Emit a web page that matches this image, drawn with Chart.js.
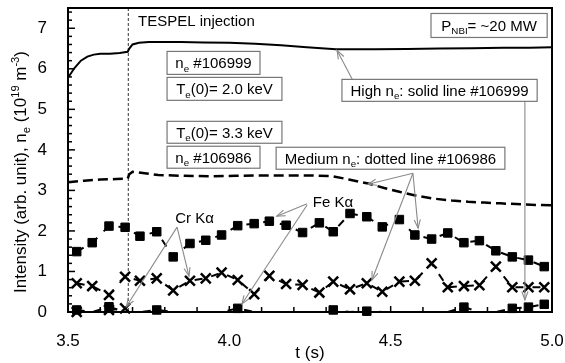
<!DOCTYPE html>
<html><head><meta charset="utf-8">
<script src="https://cdn.jsdelivr.net/npm/chart.js@4"></script>
<style>html,body{margin:0;padding:0;background:#fff;}canvas{display:block;}</style>
</head><body>
<canvas id="c" width="565" height="363"></canvas>
<script>
// ---- data ----
const markerTimes = [3.527,3.575,3.627,3.677,3.723,3.775,3.826,3.878,3.927,3.976,4.026,4.077,4.124,4.176,4.227,4.279,4.322,4.374,4.426,4.474,4.527,4.575,4.627,4.677,4.727,4.775,4.826,4.877,4.927,4.976];
// Fe K-alpha, medium n_e shot #106986 (squares)
const feMedium = [1.49,1.71,2.12,2.09,1.87,1.98,1.36,1.69,1.77,1.90,2.13,2.18,2.24,2.14,1.96,2.20,1.98,2.43,2.35,2.10,2.28,1.90,1.80,1.95,1.71,1.76,1.51,1.36,1.28,1.12];
// Cr K-alpha, medium n_e shot #106986 (crosses)
const crMedium = [0.71,0.64,0.42,0.87,0.77,0.83,0.53,0.77,0.83,0.97,0.79,0.44,0.89,0.69,0.67,0.48,0.75,0.56,0.71,0.50,0.75,0.77,1.20,0.61,0.64,0.66,1.12,0.61,0.61,0.61];
// Fe K-alpha, high n_e shot #106999 (squares near zero)
const feHigh = [0.05,0,0.13,0,0,0.05,0,0,0,0,0.09,0,0,0,0,0,0.05,0,0.02,0,0,0,0,0,0.12,0,0,0.09,0.12,0.19];
// Cr K-alpha, high n_e shot #106999 (crosses near zero)
const crHigh = [0.0,null,0.05,0.09,null,null,null,null,null,null,null,null,null,null,null,null,null,null,null,null,null,null,null,null,null,null,null,null,null,null];
// electron density, high n_e (solid)
const neHighTime = [3.50,3.52,3.54,3.56,3.58,3.60,3.63,3.66,3.685,3.69,3.70,3.72,3.75,3.80,3.85,3.92,4.00,4.08,4.16,4.24,4.33,4.40,4.45,4.55,4.65,4.75,4.85,4.93,5.00];
const neHigh     = [5.78,6.02,6.20,6.30,6.35,6.37,6.37,6.39,6.42,6.50,6.60,6.64,6.66,6.66,6.66,6.65,6.64,6.62,6.58,6.53,6.48,6.48,6.48,6.49,6.50,6.51,6.52,6.52,6.53];
// electron density, medium n_e (dashed)
const neMedTime = [3.50,3.55,3.60,3.65,3.685,3.69,3.70,3.78,3.86,3.94,4.02,4.10,4.17,4.24,4.32,4.37,4.43,4.48,4.53,4.58,4.63,4.69,4.74,4.79,4.84,4.92,5.00];
const neMed     = [3.20,3.24,3.27,3.28,3.29,3.40,3.46,3.38,3.36,3.35,3.36,3.37,3.37,3.37,3.35,3.27,3.17,3.06,2.96,2.87,2.80,2.75,2.72,2.70,2.68,2.65,2.63];
const tespelTime = 3.687;
const xTickValues = [3.5,4.0,4.5,5.0];
const yTickValues = [0,1,2,3,4,5,6,7];

// ---- annotations (data coordinates) ----
const boxes = [
  {x1:4.625, y1:7.365, x2:4.985, y2:6.773, text:'P_{NBI}= ~20 MW'},
  {x1:3.807, y1:6.429, x2:4.095, y2:5.862, text:'n_{e} #106999'},
  {x1:3.807, y1:5.788, x2:4.163, y2:5.222, text:'T_{e}(0)= 2.0 keV'},
  {x1:4.349, y1:5.739, x2:4.954, y2:5.197, text:'High n_{e}: solid line #106999'},
  {x1:3.807, y1:4.704, x2:4.163, y2:4.163, text:'T_{e}(0)= 3.3 keV'},
  {x1:3.807, y1:4.089, x2:4.095, y2:3.547, text:'n_{e} #106986'},
  {x1:4.145, y1:4.064, x2:4.854, y2:3.522, text:'Medium n_{e}: dotted line #106986'}
];
const labels = [
  {x:3.717, y:7.19, text:'TESPEL injection', align:'left'},
  {x:3.892, y:2.33, text:'Cr K\u03b1', align:'center'},
  {x:4.321, y:2.73, text:'Fe K\u03b1', align:'center'}
];
const arrows = [
  [4.383,5.714, 4.334,6.453],
  [4.916,5.197, 4.916,0.296],
  [4.569,3.424, 4.430,3.153],
  [4.569,3.424, 4.442,0.788],
  [4.569,3.424, 4.585,2.069],
  [4.241,2.672, 4.147,2.365],
  [4.241,2.640, 4.039,0.197],
  [3.838,2.094, 3.681,0.135],
  [3.838,2.094, 3.875,0.887]
];

const FAM = "'Liberation Sans', Arial, sans-serif";

function parseRich(s){
  const out=[]; const re=/([_^])\{([^}]*)\}|([^_^]+)/g; let m;
  while((m=re.exec(s))){ if(m[3]) out.push({t:m[3],k:0}); else out.push({t:m[2],k:m[1]==='_'?1:2}); }
  return out;
}
function drawRich(ctx, s, x, y, size, align){
  const segs=parseRich(s); let w=0;
  segs.forEach(g=>{ g.fs = g.k? size*0.65 : size; ctx.font = g.fs+'px '+FAM; g.w = ctx.measureText(g.t).width; w+=g.w; });
  let cx = align==='center'? x-w/2 : align==='right'? x-w : x;
  ctx.textBaseline='alphabetic'; ctx.textAlign='left';
  segs.forEach(g=>{ ctx.font=g.fs+'px '+FAM; const dy = g.k===1? size*0.22 : g.k===2? -size*0.42 : 0; ctx.fillText(g.t, cx, y+dy); cx+=g.w; });
}
function drawArrow(ctx,x1,y1,x2,y2){
  ctx.beginPath(); ctx.moveTo(x1,y1); ctx.lineTo(x2,y2); ctx.stroke();
  const a=Math.atan2(y2-y1,x2-x1), L=9, s=0.35;
  ctx.beginPath();
  ctx.moveTo(x2-L*Math.cos(a-s), y2-L*Math.sin(a-s)); ctx.lineTo(x2,y2);
  ctx.lineTo(x2-L*Math.cos(a+s), y2-L*Math.sin(a+s)); ctx.stroke();
}

const overlay = {
  id:'overlay',
  beforeDatasetsDraw(chart){
    const {ctx, chartArea:a, scales:{x}} = chart;
    const px = x.getPixelForValue(tespelTime);
    ctx.save(); ctx.strokeStyle='#555'; ctx.lineWidth=1.2; ctx.setLineDash([3,2]);
    ctx.beginPath(); ctx.moveTo(px,a.top); ctx.lineTo(px,a.bottom); ctx.stroke(); ctx.restore();
  },
  afterDatasetsDraw(chart){
    const {ctx, chartArea:a, scales:{x,y}} = chart;
    ctx.save();
    ctx.strokeStyle='#000'; ctx.lineWidth=1.5;
    for(let i=0;i<=37;i++){ const py=y.getPixelForValue(i*0.2); const len=i%5===0?7:4;
      ctx.beginPath(); ctx.moveTo(a.left,py); ctx.lineTo(a.left+len,py); ctx.stroke(); }
    for(let i=0;i<=15;i++){ const px=x.getPixelForValue(3.5+i*0.1); const len=i%5===0?6:5;
      ctx.beginPath(); ctx.moveTo(px,a.bottom); ctx.lineTo(px,a.bottom-len); ctx.stroke(); }
    ctx.lineWidth=2; ctx.strokeRect(a.left,a.top,a.right-a.left,a.bottom-a.top);
    ctx.strokeStyle='#8a8a8a'; ctx.lineWidth=1.1;
    arrows.forEach(r=>drawArrow(ctx,x.getPixelForValue(r[0]),y.getPixelForValue(r[1]),x.getPixelForValue(r[2]),y.getPixelForValue(r[3])));
    boxes.forEach(b=>{
      const x1=x.getPixelForValue(b.x1), x2=x.getPixelForValue(b.x2), y1=y.getPixelForValue(b.y1), y2=y.getPixelForValue(b.y2);
      ctx.fillStyle='#fff'; ctx.fillRect(x1,y1,x2-x1,y2-y1);
      ctx.strokeStyle='#777'; ctx.lineWidth=1.2; ctx.strokeRect(x1,y1,x2-x1,y2-y1);
      ctx.fillStyle='#000'; drawRich(ctx,b.text,(x1+x2)/2,(y1+y2)/2+5.5,15,'center');
    });
    ctx.fillStyle='#000';
    labels.forEach(l=>drawRich(ctx,l.text,x.getPixelForValue(l.x),y.getPixelForValue(l.y)+5.5,15,l.align));
    drawRich(ctx,'t (s)',(a.left+a.right)/2,358,17,'center');
    ctx.translate(20,172); ctx.rotate(-Math.PI/2);
    drawRich(ctx,'Intensity (arb. unit), n_{e} (10^{19} m^{-3})',0,6,17,'center');
    ctx.restore();
  }
};

const pts = (xs, ys) => xs.map((v,i)=>({x:v, y:ys[i]}));
const markerBase = {borderColor:'#000', backgroundColor:'#000', borderWidth:2, borderDash:[8,9], tension:0, clip:false, pointBorderColor:'#000', pointBackgroundColor:'#000'};

new Chart(document.getElementById('c'), {
  type:'line',
  data:{ datasets:[
    {label:'n_e #106999', data:pts(neHighTime,neHigh), borderColor:'#000', borderWidth:2, pointRadius:0, tension:0},
    {label:'n_e #106986', data:pts(neMedTime,neMed), borderColor:'#000', borderWidth:2.5, borderDash:[10,5], pointRadius:0, tension:0},
    Object.assign({label:'Fe K\u03b1 #106986', data:pts(markerTimes,feMedium), pointStyle:'rect', pointRadius:6, pointBorderWidth:1}, markerBase),
    Object.assign({label:'Cr K\u03b1 #106986', data:pts(markerTimes,crMedium), pointStyle:'crossRot', pointRadius:7, pointBorderWidth:2.5}, markerBase),
    Object.assign({label:'Fe K\u03b1 #106999', data:pts(markerTimes,feHigh), pointStyle:'rect', pointRadius:c=>(c.raw&&c.raw.y>0.005)?6:0, pointBorderWidth:1}, markerBase),
    Object.assign({label:'Cr K\u03b1 #106999', data:pts(markerTimes,crHigh), pointStyle:'crossRot', pointRadius:7, pointBorderWidth:2.5, spanGaps:false}, markerBase)
  ]},
  options:{
    responsive:false, animation:false, devicePixelRatio:1,
    layout:{autoPadding:false, padding:{top:8,right:13,left:0,bottom:0}},
    plugins:{legend:{display:false}, tooltip:{enabled:false}},
    scales:{
      x:{type:'linear', min:3.5, max:5.0,
         afterBuildTicks:s=>{s.ticks=xTickValues.map(v=>({value:v}));},
         afterFit:s=>{s.height=51; s.paddingLeft=0; s.paddingRight=0;},
         grid:{display:false, drawTicks:false}, border:{display:false},
         ticks:{padding:19, color:'#000', font:{family:FAM, size:17}, callback:v=>Number(v).toFixed(1), maxRotation:0}},
      y:{type:'linear', min:0, max:7.5,
         afterBuildTicks:s=>{s.ticks=yTickValues.map(v=>({value:v}));},
         afterFit:s=>{s.width=68; s.paddingTop=0; s.paddingBottom=0;},
         grid:{display:false, drawTicks:false}, border:{display:false},
         ticks:{padding:21, color:'#000', font:{family:FAM, size:17}, callback:v=>String(v)}}
    }
  },
  plugins:[overlay]
});
</script>
</body></html>
